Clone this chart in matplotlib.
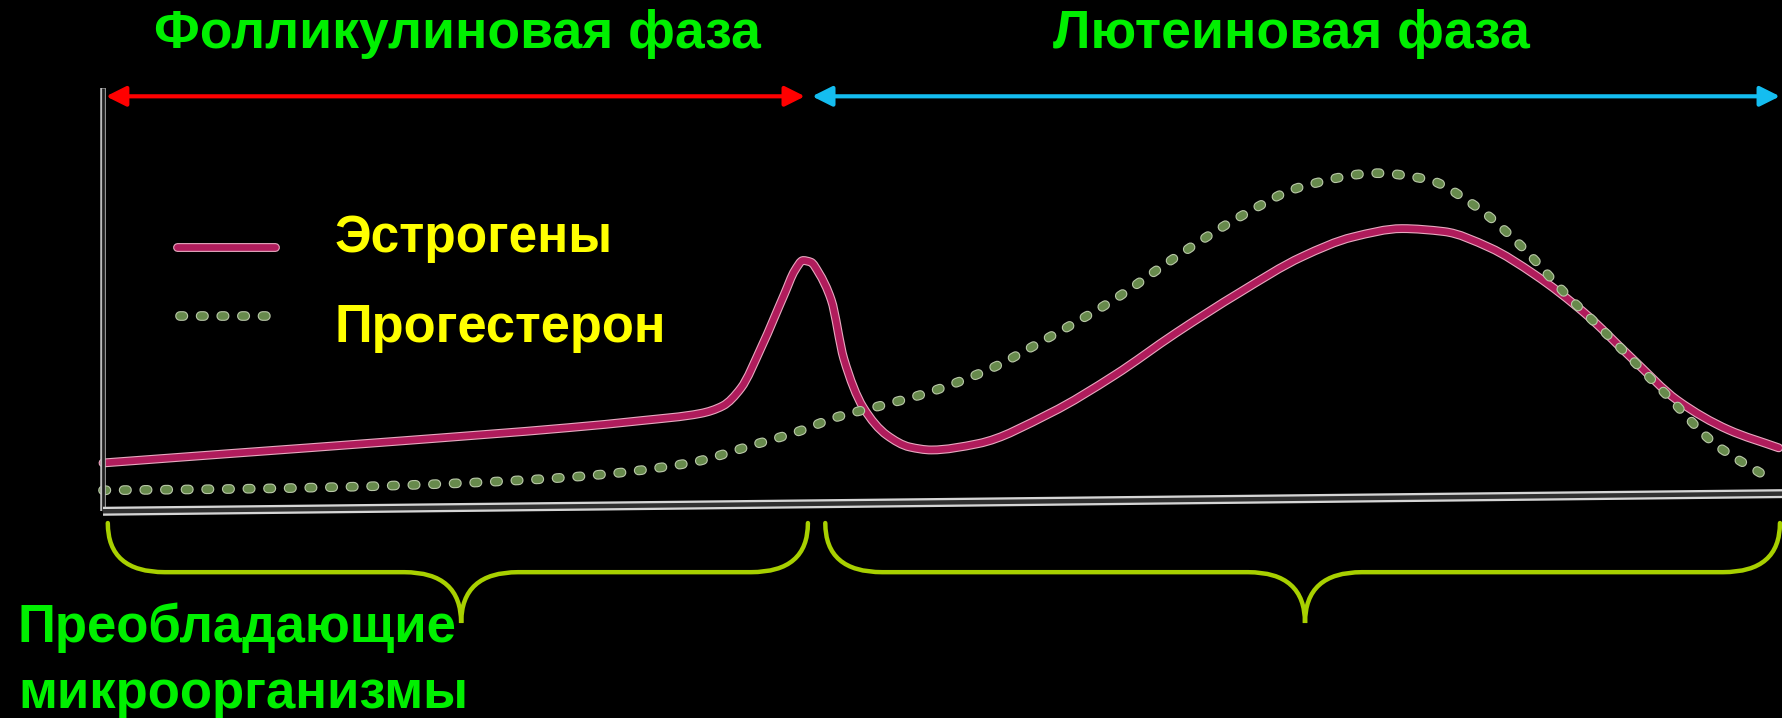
import matplotlib
matplotlib.use('Agg')
import matplotlib.pyplot as plt
import matplotlib.patheffects as pe
from matplotlib.path import Path
from matplotlib.patches import PathPatch

plt.rcParams['font.family'] = ['Liberation Sans', 'DejaVu Sans']

# cycle days and hormone levels (schematic, 0..100)
estrogen_day = [0.0, 2.08, 4.93, 7.77, 9.0, 9.98, 10.35, 10.65, 11.0, 11.38, 11.55, 11.69,
                11.82, 11.95, 12.16, 12.37, 12.69, 13.09, 13.47, 13.83, 14.61, 15.82,
                16.89, 17.91, 18.98, 20.02, 20.87, 21.69, 22.39, 23.15, 23.91, 24.73,
                25.53, 26.29, 27.14, 27.98]
estrogen_level = [11.2, 13.4, 16.4, 19.6, 21.3, 23.0, 24.8, 29.0, 39.0, 51.5, 57.0, 59.4,
                  59.0, 56.5, 50.0, 36.0, 24.5, 17.8, 15.0, 14.3, 15.8, 23.1,
                  32.1, 42.1, 51.8, 60.3, 65.0, 67.0, 66.3, 62.5, 56.0, 47.0,
                  36.1, 26.1, 19.1, 14.8]

progest_day = [0.0, 2.08, 4.03, 5.97, 7.87, 9.79, 10.93, 11.57, 12.27, 13.03, 13.74,
               14.78, 15.82, 16.87, 17.91, 18.98, 20.02, 21.27, 22.11, 22.94, 23.69,
               24.41, 25.15, 26.08, 26.91, 27.86]
progest_level = [4.7, 5.0, 5.5, 6.4, 7.9, 11.2, 15.8, 18.5, 22.2, 25.0, 27.8,
                 33.4, 41.3, 50.0, 60.2, 69.8, 77.0, 80.2, 78.7, 72.1, 62.7,
                 51.6, 41.3, 27.8, 15.8, 7.2]

phase_bounds = [0.05, 11.72, 11.84, 28.0]
phase_names = ['Фолликулиновая фаза', 'Лютеиновая фаза']
phase_label_x = [5.91, 19.85]
legend_names = ['Эстрогены', 'Прогестерон']
bottom_label = ['Преобладающие', 'микроорганизмы']
brace_spans = [(0.08, 11.77, 5.98), (12.06, 28.0, 20.07)]

EST_COLOR = '#b01c5c'
PRO_COLOR = '#678a4c'
GREEN = '#00f000'
YELLOW = '#ffff00'
BRACE = '#a8d000'

fig = plt.figure(figsize=(17.83, 7.18), dpi=100, facecolor='black')
ax = fig.add_axes([0, 0, 1, 1])
ax.set_facecolor('black')
ax.set_xlim(-1.7198, 28.051)
ax.set_ylim(-49.52, 121.43)
ax.axis('off')


def smooth_path(xs, ys):
    """Bezier path through the points, monotone (Fritsch-Butland) tangents"""
    n = len(xs)
    h = [xs[i + 1] - xs[i] for i in range(n - 1)]
    d = [(ys[i + 1] - ys[i]) / h[i] for i in range(n - 1)]
    m = [d[0]]
    for i in range(1, n - 1):
        if d[i - 1] * d[i] <= 0:
            m.append(0.0)
        else:
            m.append(3 * (h[i - 1] + h[i]) /
                     ((2 * h[i] + h[i - 1]) / d[i - 1] + (h[i] + 2 * h[i - 1]) / d[i]))
    m.append(d[-1])
    verts = [(xs[0], ys[0])]
    codes = [Path.MOVETO]
    for i in range(n - 1):
        k = h[i] / 3.0
        verts += [(xs[i] + k, ys[i] + m[i] * k),
                  (xs[i + 1] - k, ys[i + 1] - m[i + 1] * k),
                  (xs[i + 1], ys[i + 1])]
        codes += [Path.CURVE4] * 3
    return Path(verts, codes)


# axes lines (slightly slanted x axis, like the scanned drawing)
ax.plot([0.0, 0.0], [-0.3, 100.5], color='#bdbdbd', lw=4.0, solid_capstyle='butt')
ax.plot([0.0, 0.0], [-0.3, 100.5], color='#1e1e1e', lw=2.0, solid_capstyle='butt')
ax.plot([0.0, 28.05], [-0.3, 3.9], color='#d5d5d5', lw=6.5, solid_capstyle='butt')
ax.plot([0.0, 28.05], [-0.3, 3.9], color='#303030', lw=3.2, solid_capstyle='butt')

# estrogen curve
est_fx = [pe.Stroke(linewidth=6.4, foreground='#e7a9c0'), pe.Normal()]
ax.add_patch(PathPatch(smooth_path(estrogen_day, estrogen_level), facecolor='none',
                       edgecolor=EST_COLOR, lw=4.8, joinstyle='round',
                       capstyle='round', path_effects=est_fx))

# progesterone curve (dotted)
pro_fx = [pe.Stroke(linewidth=7.0, foreground='#b9c8a8'), pe.Normal()]
ax.add_patch(PathPatch(smooth_path(progest_day, progest_level), facecolor='none',
                       edgecolor=PRO_COLOR, lw=5.4, linestyle=(0, (0.45, 2.3)),
                       capstyle='round', path_effects=pro_fx))

# legend
ax.plot([1.24, 2.88], [62.6, 62.6], color=EST_COLOR, lw=4.8,
        solid_capstyle='round', path_effects=est_fx)
ax.plot([1.28, 2.95], [46.2, 46.2], color=PRO_COLOR, lw=5.4,
        linestyle=(0, (0.45, 2.3)), dash_capstyle='round', path_effects=pro_fx)
ax.text(3.87, 61.5, legend_names[0], color=YELLOW, fontsize=37,
        fontweight='bold', ha='left', va='baseline')
ax.text(3.87, 40.1, legend_names[1], color=YELLOW, fontsize=37.8,
        fontweight='bold', ha='left', va='baseline')

# phase arrows
ax.annotate('', xy=(phase_bounds[0], 98.5), xytext=(phase_bounds[1], 98.5),
            arrowprops=dict(arrowstyle='<|-|>', color='#ff0000', lw=3,
                            mutation_scale=30, shrinkA=0, shrinkB=0))
ax.annotate('', xy=(phase_bounds[2], 98.5), xytext=(phase_bounds[3], 98.5),
            arrowprops=dict(arrowstyle='<|-|>', color='#14bdf0', lw=3,
                            mutation_scale=30, shrinkA=0, shrinkB=0))

for name, xc in zip(phase_names, phase_label_x):
    ax.text(xc, 110.0, name, color=GREEN, fontsize=38.5, fontweight='bold',
            ha='center', va='baseline')


# curly braces under the x axis
def draw_brace(ax, x0, x1, xtip, ytop=-3.1, ymid=-14.8, ybot=-26.9, d=0.95):
    verts = [(x0, ytop), (x0, ymid), (x0 + d, ymid),
             (xtip - d, ymid),
             (xtip, ymid), (xtip, ybot),
             (xtip, ymid), (xtip + d, ymid),
             (x1 - d, ymid),
             (x1, ymid), (x1, ytop)]
    codes = [Path.MOVETO, Path.CURVE3, Path.CURVE3,
             Path.LINETO,
             Path.CURVE3, Path.CURVE3,
             Path.CURVE3, Path.CURVE3,
             Path.LINETO,
             Path.CURVE3, Path.CURVE3]
    ax.add_patch(PathPatch(Path(verts, codes), facecolor='none',
                           edgecolor=BRACE, lw=3.2, capstyle='round'))


for x0, x1, xt in brace_spans:
    draw_brace(ax, x0, x1, xt)

ax.text(-1.42, -31.4, bottom_label[0], color=GREEN, fontsize=38,
        fontweight='bold', ha='left', va='baseline')
ax.text(-1.42, -47.1, bottom_label[1], color=GREEN, fontsize=38,
        fontweight='bold', ha='left', va='baseline')

fig.savefig('out.png', dpi=100, facecolor='black')
